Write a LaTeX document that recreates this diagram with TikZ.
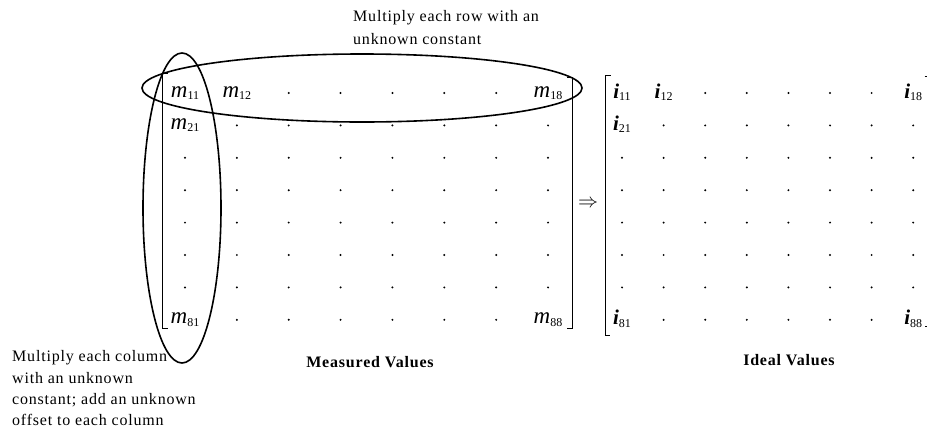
\documentclass[tikz,border=0pt]{standalone}
\usepackage{fontspec}
\usepackage{graphicx}
\setmainfont{Liberation Serif}
\newfontfamily\lblfont[LetterSpace=5]{Liberation Serif}
\newcommand\mel[1]{{\fontsize{23}{23}\selectfont\itshape m}\raisebox{-2.5pt}{\fontsize{12}{12}\selectfont #1}}
\newcommand\iel[1]{{\fontsize{21}{21}\selectfont\bfseries\itshape i}\raisebox{-2.5pt}{\fontsize{12}{12}\selectfont #1}}
\tikzset{
  elem/.style={inner sep=0pt, anchor=base},
  lbl/.style={inner sep=0pt, anchor=base west, font=\lblfont\fontsize{16}{16}\selectfont},
  heading/.style={inner sep=0pt, anchor=base, font=\lblfont\bfseries\fontsize{16}{16}\selectfont},
  brk/.style={line width=1.1pt},
  ringline/.style={line width=1.6pt},
  dotmark/.style={fill=black},
}
\begin{document}
\begin{tikzpicture}[x=1pt,y=-1pt]
\useasboundingbox (0,0) rectangle (927,429);
\clip (0,0) rectangle (927,429);

% ---- matrix dots ----
\foreach \k in {1,...,8}{
  \foreach \j in {1,...,8}{
    \pgfmathtruncatemacro\skipit{
      (\k==1 && (\j==1 || \j==2 || \j==8)) || (\k==2 && \j==1) || (\k==8 && (\j==1 || \j==8)) ? 1 : 0}
    \ifnum\skipit=0
      \fill[dotmark] ({185+51.86*(\j-1)},{93+32.4*(\k-1)}) circle (1.1);
      \fill[dotmark] ({622+41.6*(\j-1)},{93+32.4*(\k-1)}) circle (1.1);
    \fi
  }
}

% ---- measured elements ----
\node[elem] (m11) at (185,97) {\mel{11}};
\node[elem] (m12) at (236.9,97) {\mel{12}};
\node[elem] (m18) at (548,97) {\mel{18}};
\node[elem] (m21) at (185,129.4) {\mel{21}};
\node[elem] (m81) at (185,323.8) {\mel{81}};
\node[elem] (m88) at (548,323.8) {\mel{88}};

% ---- ideal elements ----
\node[elem] (i11) at (622,98) {\iel{11}};
\node[elem] (i12) at (663.6,98) {\iel{12}};
\node[elem] (i18) at (913.2,98) {\iel{18}};
\node[elem] (i21) at (622,130.4) {\iel{21}};
\node[elem] (i81) at (622,324.8) {\iel{81}};
\node[elem] (i88) at (913.2,324.8) {\iel{88}};

% ---- brackets ----
\draw[brk] (168,73.5) -- (162.5,73.5) -- (162.5,328.5) -- (167.5,328.5);
\draw[brk] (567,77.5) -- (572.5,77.5) -- (572.5,328.5) -- (567,328.5);
\draw[brk] (610.5,75.5) -- (605.5,75.5) -- (605.5,335.5) -- (609.5,335.5);
\draw[brk] (924.5,76.5) -- (929,76.5) -- (929,326.5) -- (924.5,326.5);

% ---- implies arrow ----
\node[inner sep=0pt] (arr) at (588,203.5) {\scalebox{2}{$\Rightarrow$}};

% ---- ellipses ----
\draw[ringline] (362,88) ellipse [x radius=220pt, y radius=34pt];
\draw[ringline] (182,208) ellipse [x radius=39pt, y radius=155pt];

% ---- texts ----
\node[lbl] (rowtxt1) at (353,21.7) {Multiply each row with an};
\node[lbl] (rowtxt2) at (353,44.3) {unknown constant};
\node[lbl] (coltxt1) at (12,361.7) {Multiply each column};
\node[lbl] (coltxt2) at (12,383) {with an unknown};
\node[lbl] (coltxt3) at (12,404.7) {constant; add an unknown};
\node[lbl] (coltxt4) at (12,425) {offset to each column};
\node[heading] (meas) at (370,367) {Measured Values};
\node[heading] (ideal) at (789,365) {Ideal Values};
\end{tikzpicture}
\end{document}
